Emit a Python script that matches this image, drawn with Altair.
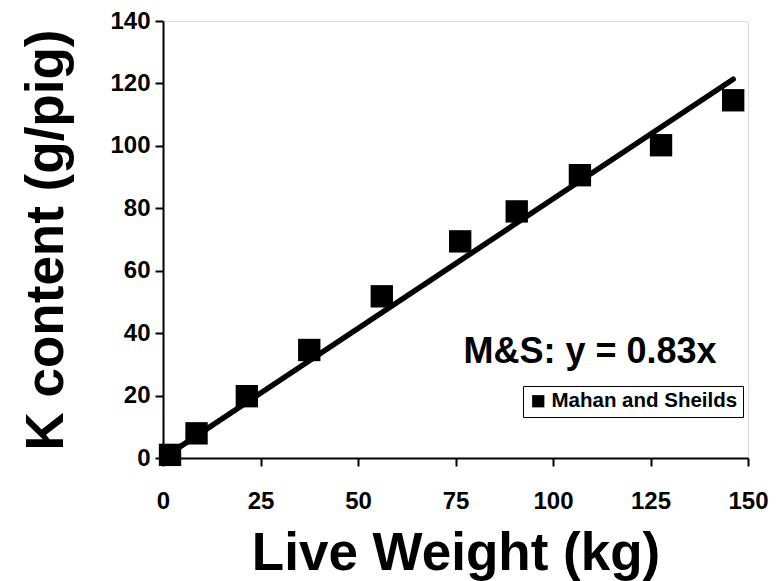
import altair as alt
import pandas as pd

weight = [1.8, 8.6, 21.5, 37.5, 56.1, 76.2, 90.7, 106.9, 127.7, 146.2]
k_content = [1.0, 7.9, 19.8, 34.6, 51.8, 69.4, 79.0, 90.6, 100.2, 114.6]
slope = 0.83
series_name = "Mahan and Sheilds"
x_ticks = [0, 25, 50, 75, 100, 125, 150]
y_ticks = [0, 20, 40, 60, 80, 100, 120, 140]

pts = pd.DataFrame({"w": weight, "k": k_content, "s": series_name})
fit = pd.DataFrame({"w": [weight[0], weight[-1]],
                    "k": [slope * weight[0], slope * weight[-1]]})
ann = pd.DataFrame({"w": [109.5], "k": [30.4], "t": ["M&S: y = 0.83x"]})

FONT = "Liberation Sans"

xs = alt.Scale(domain=[0, 150], nice=False, zero=False)
ys = alt.Scale(domain=[0, 140], nice=False, zero=False)

xaxis = alt.Axis(values=x_ticks, title="Live Weight (kg)", grid=False,
                 domainColor="black", domainWidth=2, tickColor="black",
                 tickWidth=2, tickSize=8, labelFont=FONT, labelFontSize=24,
                 labelFontWeight="bold", labelColor="black", labelPadding=23,
                 titleFont=FONT, titleFontSize=53, titleFontWeight="bold",
                 titleColor="black", titleY=111,
                 titleBaseline="alphabetic", titleAnchor="middle", labelFlush=False)
yaxis = alt.Axis(values=y_ticks, title="K content (g/pig)", grid=False,
                 domainColor="black", domainWidth=2, tickColor="black",
                 tickWidth=2, tickSize=8, labelFont=FONT, labelFontSize=24,
                 labelFontWeight="bold", labelColor="black", labelPadding=5,
                 titleFont=FONT, titleFontSize=53, titleFontWeight="bold",
                 titleColor="black", titleX=-117, titleY=218.5, titleAngle=-90,
                 titleBaseline="middle", titleAnchor="middle", labelFlush=False)

line = alt.Chart(fit).mark_line(color="black", strokeWidth=5.5, strokeCap="round").encode(
    x=alt.X("w:Q", scale=xs, axis=xaxis),
    y=alt.Y("k:Q", scale=ys, axis=yaxis),
)

points = alt.Chart(pts).mark_point(shape="square", filled=True, opacity=1,
                                   size=500).encode(
    x=alt.X("w:Q", scale=xs),
    y=alt.Y("k:Q", scale=ys),
    color=alt.Color("s:N", scale=alt.Scale(range=["black"]),
                    legend=alt.Legend(title=None, orient="none", legendX=360,
                                      legendY=365, symbolType="square",
                                      symbolSize=150, symbolFillColor="black",
                                      symbolStrokeWidth=0,
                                      labelFont=FONT, labelFontSize=20.5,
                                      labelFontWeight="bold", labelColor="black",
                                      strokeColor="black", padding=5,
                                      fillColor="white", labelLimit=400,
                                      labelOffset=3,
                                      symbolOffset=0)),
)

text = alt.Chart(ann).mark_text(font=FONT, fontSize=36, fontWeight="bold",
                                color="black", align="center",
                                baseline="alphabetic").encode(
    x=alt.X("w:Q", scale=xs), y=alt.Y("k:Q", scale=ys), text="t:N")

chart = alt.layer(line, points, text).properties(
    width=585, height=437,
    autosize=alt.AutoSizeParams(type="none"),
    padding={"left": 155, "top": 13, "right": 28, "bottom": 123},
).configure_view(stroke="black", strokeWidth=2).configure(background="white")

chart.save("out.html", embed_options={"renderer": "svg", "actions": False})
